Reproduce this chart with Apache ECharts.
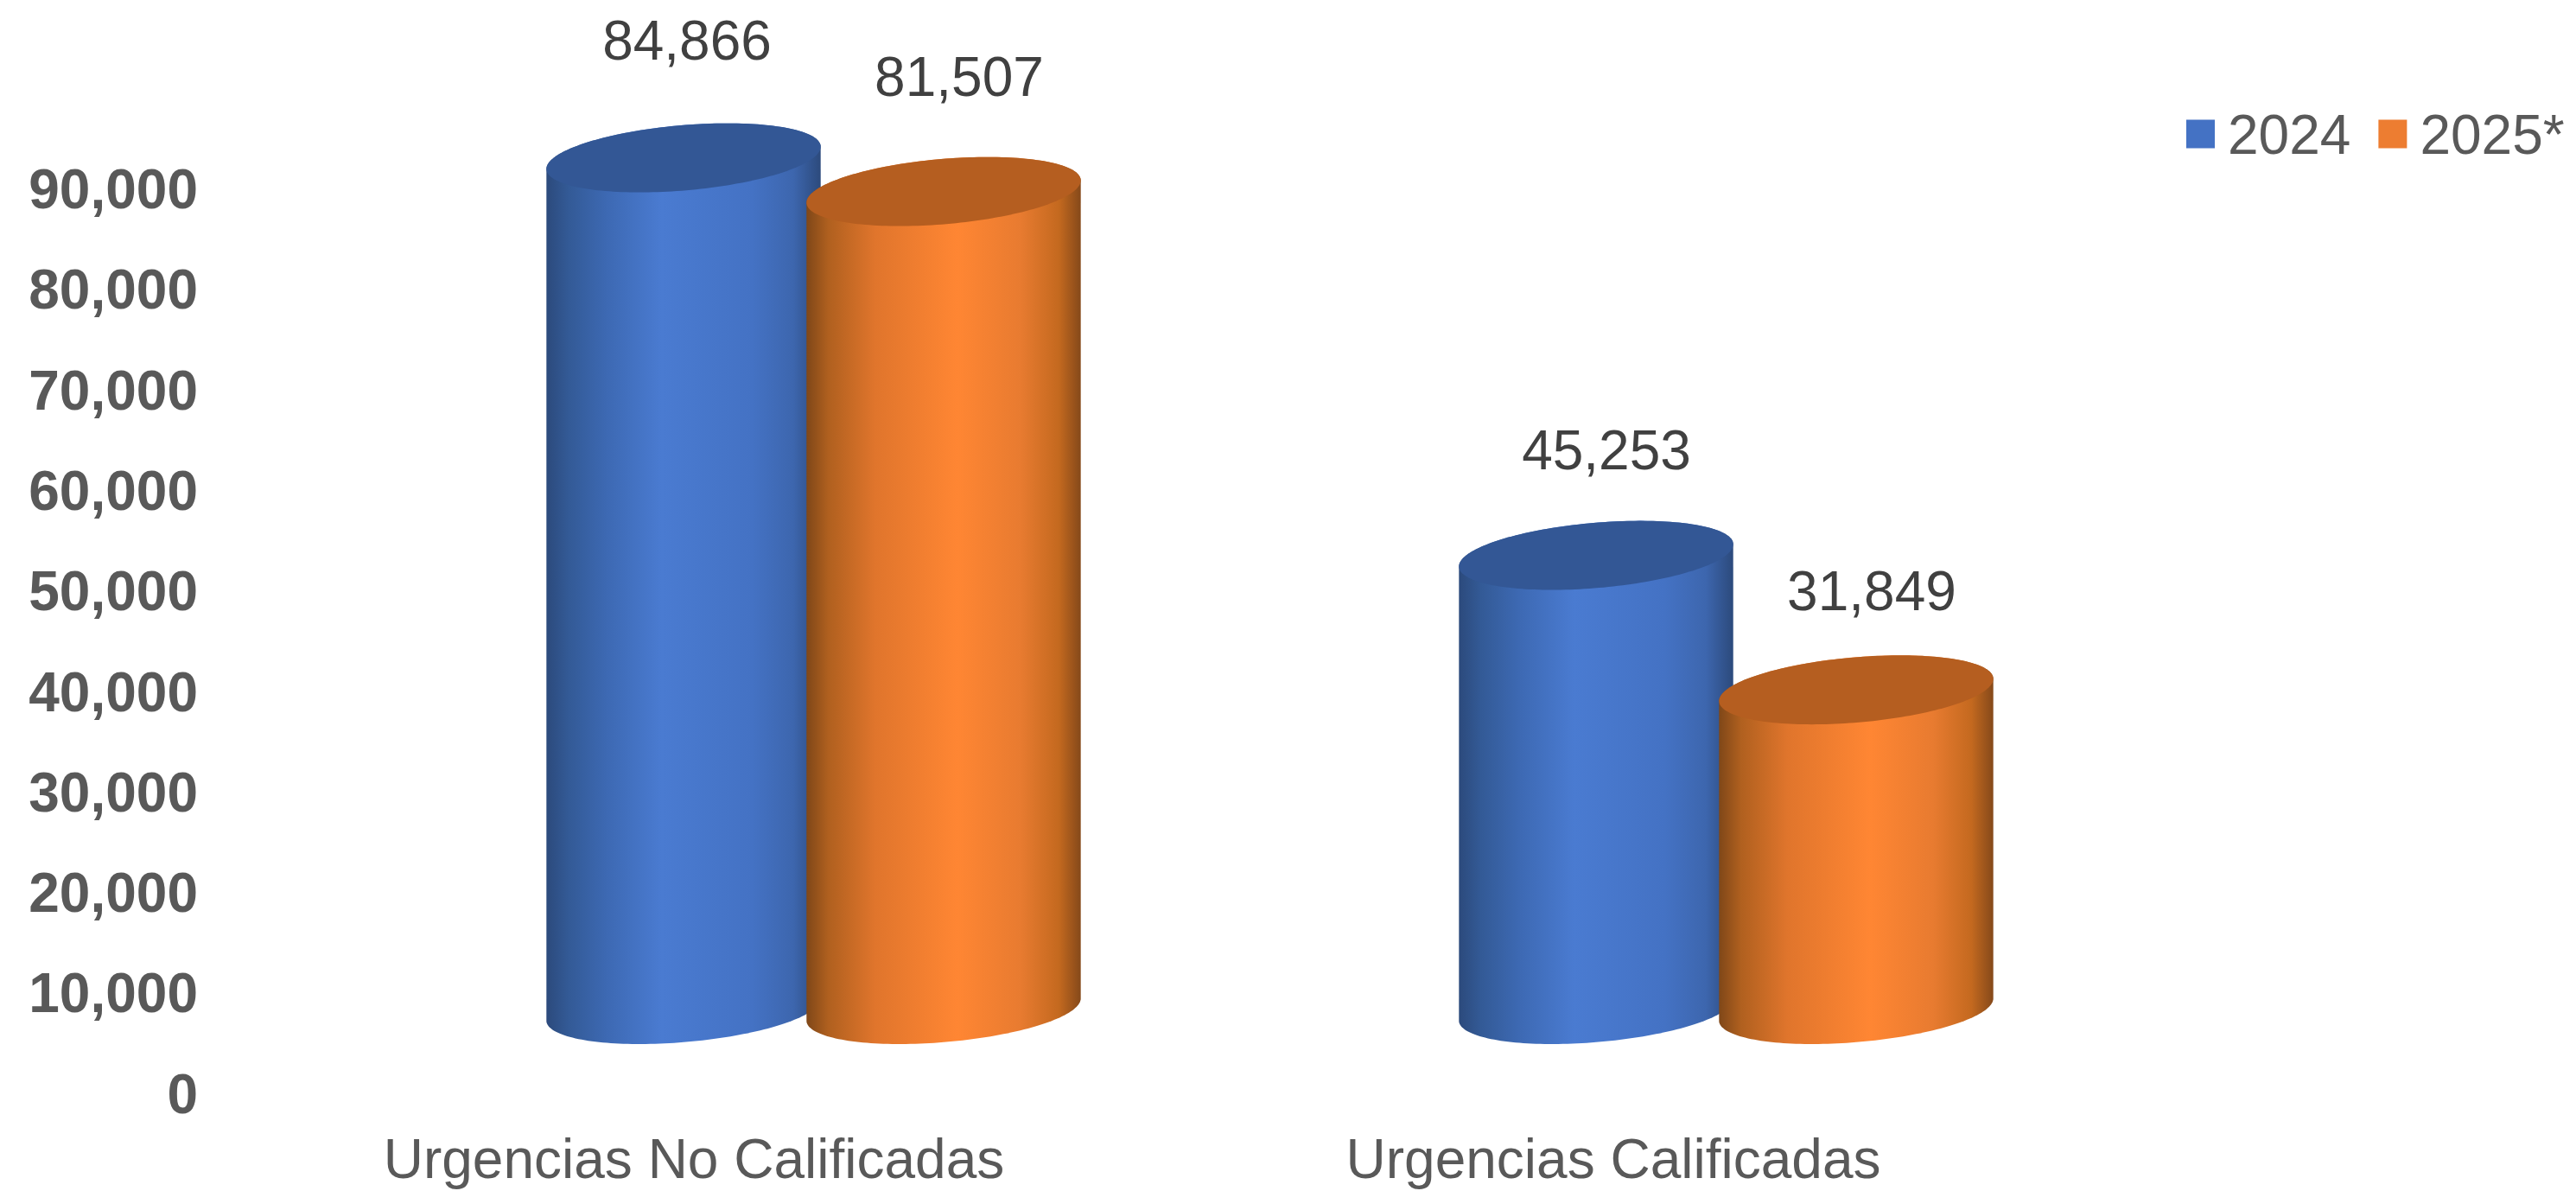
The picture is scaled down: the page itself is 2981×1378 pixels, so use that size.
<!DOCTYPE html>
<html><head><meta charset="utf-8">
<style>html,body{margin:0;padding:0;background:#fff}#c{width:2981px;height:1378px}</style>
<script src="https://cdn.jsdelivr.net/npm/echarts@6/dist/echarts.min.js"></script>
</head><body><div id="c"></div>
<script>
const categories = ['Urgencias No Calificadas', 'Urgencias Calificadas'];
const seriesNames = ['2024', '2025*'];
const values2024 = [84866, 45253];
const values2025 = [81507, 31849];
const yTicks = [0, 10000, 20000, 30000, 40000, 50000, 60000, 70000, 80000, 90000];

const FONT = '"Liberation Sans", Arial, sans-serif';
const fmt = v => v.toLocaleString('en-US');
const bodyStops = [
  [[0,'#2c4a7c'],[0.08,'#335a96'],[0.22,'#3d69b3'],[0.42,'#4a7bd1'],[0.75,'#4472c4'],[0.9,'#3d66ae'],[1,'#2c4a7c']],
  [[0,'#7f4718'],[0.08,'#b0601f'],[0.25,'#e0752c'],[0.55,'#ff8633'],[0.78,'#e87b30'],[0.92,'#c4691f'],[1,'#85491a']]
];
const lidColors = ['#335795', '#b55e20'];
const swatch = ['#4472c4', '#ed7d31'];
const labelNudge = [[[4,-131],[18,-128]],[[12,-117],[18,-110]]];

function ellipsePts(cx, cy, a, b, th, t0, t1, n) {
  const pts = [], c = Math.cos(th), s = Math.sin(th);
  for (let i = 0; i <= n; i++) {
    const t = t0 + (t1 - t0) * i / n;
    const ex = a * Math.cos(t), ey = b * Math.sin(t);
    pts.push([cx + ex * c - ey * s, cy + ex * s + ey * c]);
  }
  return pts;
}
function cylinder(si) {
  return function (params, api) {
    const cat = api.value(0), val = api.value(1);
    const band = api.size([1, 0])[0];
    const base = api.coord([cat, 0]), top = api.coord([cat, val]);
    const cx = base[0] + (si === 0 ? -0.1425 : 0.1425) * band;
    const a = 0.1508 * band, b = 37.7, th = -4.9 * Math.PI / 180;
    const tR = Math.atan2(-b * Math.sin(th), a * Math.cos(th));
    const tL = tR + Math.PI;
    const lower = ellipsePts(cx, base[1], a, b, th, tR, tL, 90);
    const upper = ellipsePts(cx, top[1], a, b, th, tL, tR + 2 * Math.PI, 90);
    const n = labelNudge[cat][si];
    return {
      type: 'group',
      children: [
        { type: 'polygon', shape: { points: lower.concat(upper) },
          style: { fill: new echarts.graphic.LinearGradient(0, 0, 1, 0,
            bodyStops[si].map(s => ({ offset: s[0], color: s[1] }))) } },
        { type: 'polygon', shape: { points: ellipsePts(cx, top[1], a, b, th, 0, 2 * Math.PI, 180) },
          style: { fill: lidColors[si] } },
        { type: 'text', style: { text: fmt(val), x: cx + n[0], y: top[1] + n[1],
            align: 'center', verticalAlign: 'middle',
            font: '64px ' + FONT, fill: '#404040' } }
      ]
    };
  };
}
const chart = echarts.init(document.getElementById('c'), null, { renderer: 'canvas' });
chart.setOption({
  animation: false,
  backgroundColor: '#fff',
  textStyle: { fontFamily: FONT },
  legend: {
    data: seriesNames, orient: 'horizontal', left: 2530, top: 128, width: 451, padding: 0,
    icon: 'rect', itemWidth: 33, itemHeight: 33, itemGap: 32,
    formatter: '{t|{name}}',
    textStyle: { fontSize: 64, color: '#595959', fontFamily: FONT,
      rich: { t: { fontSize: 64, color: '#595959', fontFamily: FONT, padding: [10, 0, 0, 10] } } },
    selectedMode: false
  },
  grid: [
    { left: 271, width: 2128, top: 223.5, height: 1046.5 },
    { left: 413.5, width: 2112, top: 123, height: 1045 }
  ],
  xAxis: [
    { type: 'category', gridIndex: 0, data: categories,
      axisLine: { show: false }, axisTick: { show: false },
      axisLabel: { fontSize: 64, color: '#595959', fontFamily: FONT, margin: 43 } },
    { type: 'category', gridIndex: 1, data: categories, show: false }
  ],
  yAxis: [
    { type: 'value', gridIndex: 0, min: yTicks[0], max: yTicks[yTicks.length - 1], interval: yTicks[1] - yTicks[0],
      splitLine: { show: false }, axisLine: { show: false }, axisTick: { show: false },
      axisLabel: { fontSize: 64, fontWeight: 'bold', color: '#595959', fontFamily: FONT, margin: 42, formatter: fmt } },
    { type: 'value', gridIndex: 1, min: yTicks[0], max: yTicks[yTicks.length - 1], interval: yTicks[1] - yTicks[0], show: false }
  ],
  series: [values2024, values2025].map((vals, si) => ({
    type: 'custom', name: seriesNames[si], xAxisIndex: 1, yAxisIndex: 1,
    coordinateSystem: 'cartesian2d', clip: false,
    itemStyle: { color: swatch[si] },
    encode: { x: 0, y: 1 },
    data: vals.map((v, i) => [i, v]),
    renderItem: cylinder(si)
  }))
});
</script></body></html>
